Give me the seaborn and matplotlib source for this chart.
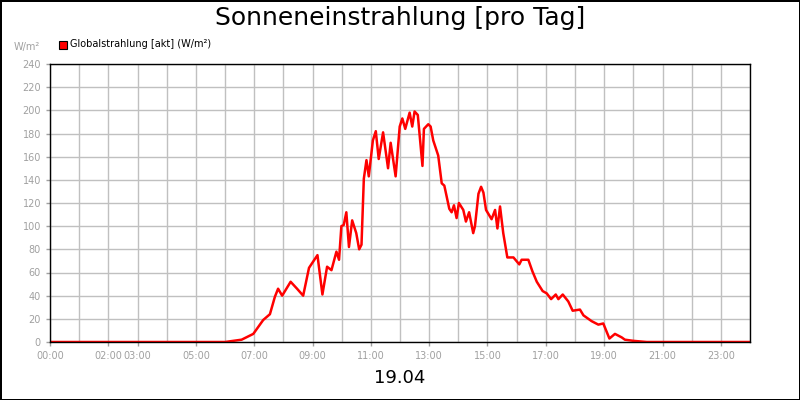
import matplotlib
matplotlib.use("Agg")
import matplotlib.pyplot as plt
import seaborn as sns
import pandas as pd

hours = [0, 6.0, 6.57, 6.97, 7.31, 7.54, 7.71, 7.82, 7.96, 8.25, 8.47, 8.68, 8.88, 9.17, 9.34, 9.5, 9.65,
         9.82, 9.91, 9.99, 10.07, 10.16, 10.25, 10.36, 10.5, 10.6, 10.68, 10.76, 10.85, 10.93, 11.07,
         11.17, 11.27, 11.42, 11.59, 11.68, 11.85, 11.99, 12.08, 12.18, 12.33, 12.42, 12.5, 12.61,
         12.77, 12.82, 12.97, 13.05, 13.14, 13.31, 13.43, 13.52, 13.69, 13.77, 13.85, 13.94, 14.02,
         14.17, 14.26, 14.37, 14.51, 14.57, 14.69, 14.78, 14.86, 14.95, 15.14, 15.26, 15.34, 15.43,
         15.54, 15.68, 15.89, 16.09, 16.17, 16.4, 16.54, 16.69, 16.89, 17.03, 17.18, 17.34, 17.43,
         17.58, 17.77, 17.92, 18.17, 18.29, 18.57, 18.8, 18.97, 19.18, 19.37, 19.6, 19.71, 20.0,
         20.46, 24.0]
values = [0, 0, 2, 7, 19, 24, 39, 46, 40, 52, 46, 40, 64, 75, 41, 65, 62,
          78, 71, 100, 101, 112, 82, 105, 94, 80, 84, 141, 157, 143, 174,
          182, 158, 181, 150, 172, 143, 186, 193, 184, 198, 186, 199, 196,
          152, 184, 188, 186, 174, 161, 137, 135, 115, 112, 118, 107, 120,
          114, 104, 112, 94, 100, 128, 134, 129, 114, 106, 114, 98, 117,
          94, 73, 73, 67, 71, 71, 61, 52, 44, 42, 37, 41, 37,
          41, 35, 27, 28, 23, 18, 15, 16, 3, 7, 4, 2, 1,
          0, 0]
tick_hours = [0, 2, 3, 5, 7, 9, 11, 13, 15, 17, 19, 21, 23]
tick_labels = ["00:00", "02:00", "03:00", "05:00", "07:00", "09:00", "11:00", "13:00",
               "15:00", "17:00", "19:00", "21:00", "23:00"]
y_ticks = list(range(0, 241, 20))

sns.set_style("white")
fig = plt.figure(figsize=(8, 4), dpi=100)
fig.patch.set_edgecolor("black")
fig.patch.set_linewidth(2)
ax = fig.add_axes([50/800, 58/400, 700/800, 278/400])

df = pd.DataFrame({"h": hours, "v": values})
sns.lineplot(data=df, x="h", y="v", ax=ax, color="#ff0000", linewidth=1.8,
             label="Globalstrahlung [akt] (W/m²)", legend=False)

ax.set_xlim(0, 24)
ax.set_ylim(0, 240)
ax.set_xticks(tick_hours)
ax.set_xticklabels(tick_labels)
ax.set_xticks(range(0, 25), minor=True)
ax.set_yticks(y_ticks)
ax.grid(True, which="both", color="#c0c0c0", linewidth=1)
ax.tick_params(axis="both", which="major", labelsize=7, colors="#a0a0a0", length=3, width=1, direction="out",
               left=True, bottom=True)
ax.tick_params(axis="x", which="minor", length=0)
for s in ax.spines.values():
    s.set_color("black")
    s.set_linewidth(1)
ax.set_xlabel("")
ax.set_ylabel("")

fig.text(0.5, 0.955, "Sonneneinstrahlung [pro Tag]", ha="center", va="center", fontsize=18, color="black")
fig.text(0.5, 0.055, "19.04", ha="center", va="center", fontsize=13, color="black")
fig.text(40/800, 1-47/400, "W/m²", ha="right", va="center", fontsize=7, color="#a0a0a0")
fig.patches.append(plt.Rectangle((59/800, 1-49/400), 8/800, 8/400, transform=fig.transFigure,
                                 facecolor="#ff0000", edgecolor="black", linewidth=0.8))
fig.text(70/800, 1-44/400, "Globalstrahlung [akt] (W/m²)", ha="left", va="center", fontsize=7, color="black")

fig.savefig("out.png", dpi=100, edgecolor=fig.get_edgecolor())
